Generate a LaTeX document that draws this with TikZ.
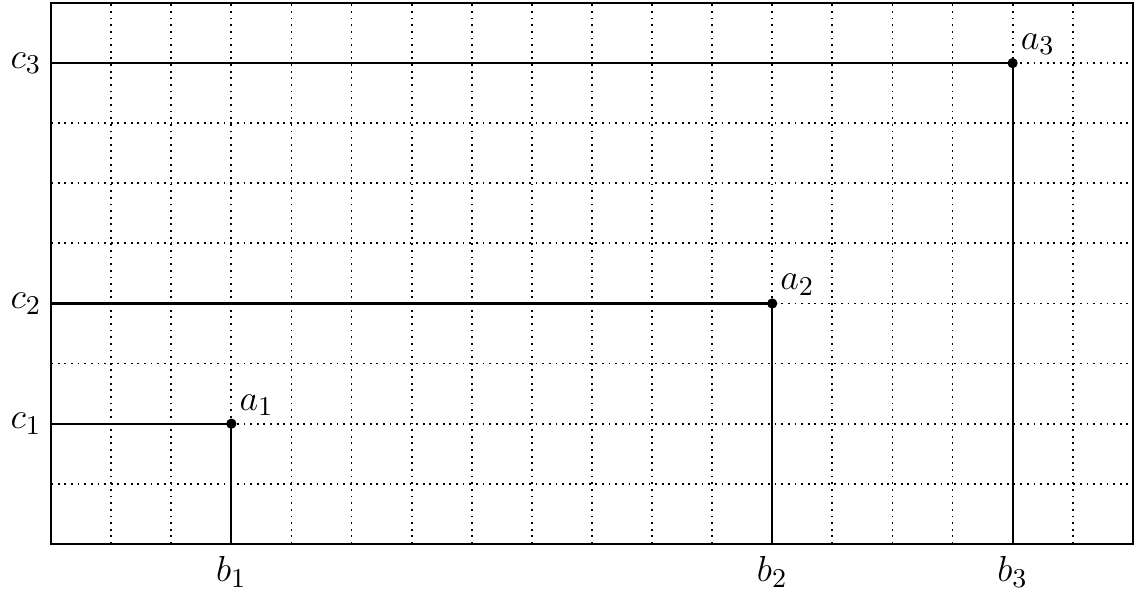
\documentclass[tikz,border=0pt]{standalone}
\usepackage{amsmath}
\usepackage{tikz}
\usetikzlibrary{positioning}

\begin{document}
\begin{tikzpicture}[x=0.7cm, y=0.7cm, font=\fontsize{13}{15}\selectfont,
    dot/.style={circle, fill, inner sep=0pt, minimum size=3.4pt}]
  \useasboundingbox (-0.85,-0.88) rectangle (18.07,9.05);
  \draw[line width=0.6pt, dash pattern=on 0.6pt off 1.6pt] (0,0) grid[step=1] (18,9);
  \draw[line width=0.7pt] (0,0) rectangle (18,9);
  \foreach \i/\px/\py in {1/3/2, 2/12/4, 3/16/8}{
    \coordinate (c\i) at (0,\py);
    \coordinate (b\i) at (\px,0);
    \node[dot] (a\i) at (\px,\py) {};
    \draw[line width=0.7pt] (c\i) -- (a\i.center) -- (b\i);
    \node[left, inner sep=3pt] (lc\i) at (c\i) {$c_\i$};
    \node[below, inner sep=4pt] (lb\i) at (b\i) {$b_\i$};
    \node[above right, inner sep=2.5pt] (la\i) at (a\i.center) {$a_\i$};
  }
\end{tikzpicture}
\end{document}
